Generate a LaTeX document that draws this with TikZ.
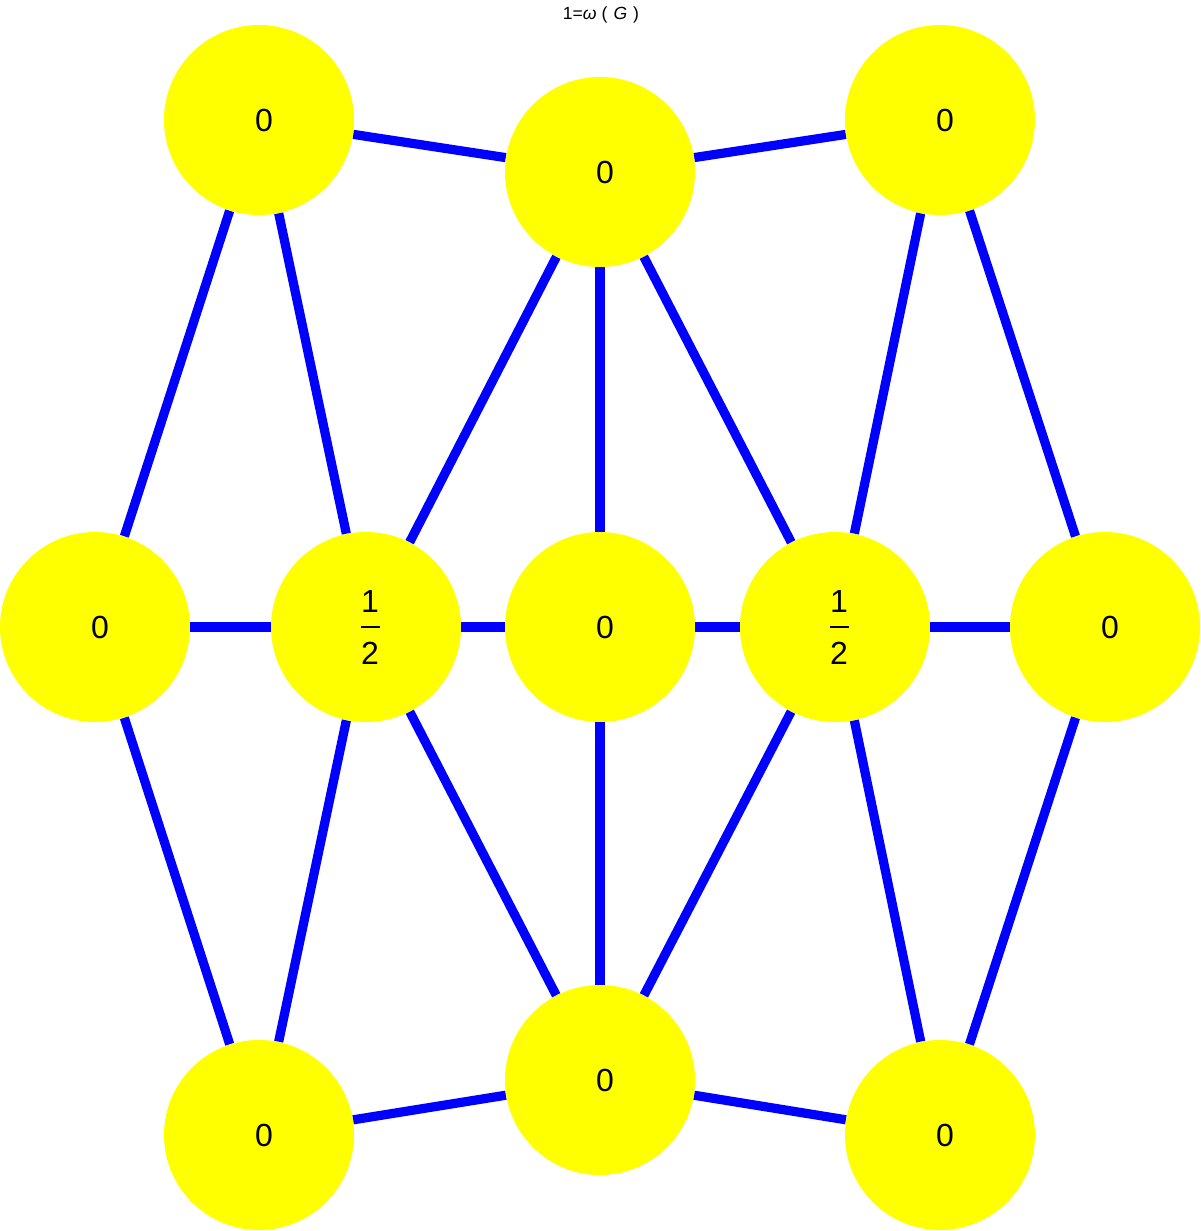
\documentclass[tikz,border=0pt]{standalone}
\usepackage{fontspec}
\setmainfont{Liberation Sans}
\begin{document}
\begin{tikzpicture}[x=0.5pt,y=-0.5pt,
  vtx/.style={circle,fill={rgb,255:red,255;green,255;blue,0},draw=none,inner sep=0pt,minimum size=95pt},
  lbl/.style={font=\fontsize{16}{19}\selectfont,inner sep=0pt},
  edg/.style={draw={rgb,255:red,0;green,0;blue,255},line width=4.6pt}]
\useasboundingbox (0,0) rectangle (1200,1231);
\node[font=\fontsize{8.8}{10}\selectfont] (title) at (601,15) {1=\textit{ω}\hspace{2.5pt}(\hspace{3pt}\textit{G}\hspace{3pt})};
\node[vtx] (tl) at (259,120) {};
\node[vtx] (tc) at (600,172) {};
\node[vtx] (tr) at (940,120) {};
\node[vtx] (ml) at (95,627) {};
\node[vtx] (mcl) at (366,627) {};
\node[vtx] (mc) at (600,627) {};
\node[vtx] (mcr) at (835,627) {};
\node[vtx] (mr) at (1105,627) {};
\node[vtx] (bl) at (259,1135) {};
\node[vtx] (bc) at (600,1080) {};
\node[vtx] (br) at (940,1135) {};
\foreach \a/\b in {tl/tc,tc/tr,tl/ml,tl/mcl,tc/mcl,tc/mc,tc/mcr,tr/mcr,tr/mr,ml/mcl,mcl/mc,mc/mcr,mcr/mr,ml/bl,mcl/bl,mcl/bc,mc/bc,mcr/bc,mcr/br,mr/br,bl/bc,bc/br}
  \draw[edg] (\a) -- (\b);
\foreach \n in {tl,tc,tr,ml,mc,mr,bl,bc,br}
  \node[lbl] at ([xshift=2.5pt]\n.center) {0};
\foreach \n in {mcl,mcr}
  \node[lbl] at ([xshift=2pt,yshift=-0.25pt]\n.center)
    {\vbox{\hbox to 9.5pt{\hss 1\hss}\kern6.4pt\hrule height 1.2pt\kern6.9pt\hbox to 9.5pt{\hss 2\hss}}};
\end{tikzpicture}
\end{document}
